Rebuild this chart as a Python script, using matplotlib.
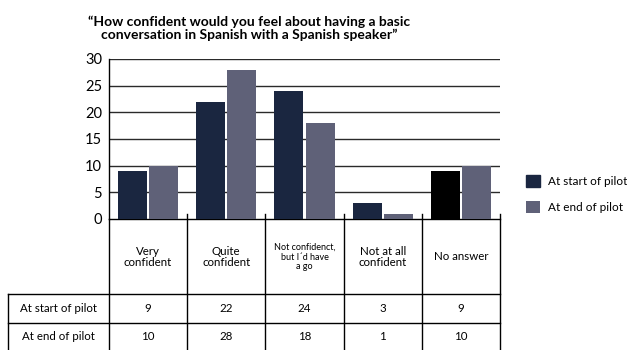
import numpy as np
import matplotlib.pyplot as plt

# survey answers, counted at the start and end of the pilot
categories = ["Very\nconfident", "Quite\nconfident", "Not confidenct,\nbut I´d have\na go",
              "Not at all\nconfident", "No answer"]
series_names = ["At start of pilot", "At end of pilot"]
start_vals = [9, 22, 24, 3, 9]
end_vals = [10, 28, 18, 1, 10]
title = "\u201cHow confident would you feel about having a basic\nconversation in Spanish with a Spanish speaker\u201d"

navy = "#1a2640"
slate = "#5f6178"
start_colors = [navy, navy, navy, navy, "#000000"]

plt.rcParams['font.family'] = ['Lato', 'DejaVu Sans']

W, H = 627, 350
fig = plt.figure(figsize=(W / 100, H / 100), dpi=100)
x0, x1, ytop, ybot = 109, 500, 59, 219
ax = fig.add_axes([x0 / W, 1 - ybot / H, (x1 - x0) / W, (ybot - ytop) / H])

n = len(categories)
x = np.arange(n)
w = 0.37
b1 = ax.bar(x - 0.2, start_vals, w, color=start_colors, zorder=3, label=series_names[0])
b2 = ax.bar(x + 0.2, end_vals, w, color=slate, zorder=3, label=series_names[1])

ax.set_xlim(-0.5, n - 0.5)
ax.set_ylim(0, 30)
ax.set_yticks(range(0, 31, 5))
for v in range(5, 31, 5):
    ax.axhline(v, color="#2a2a2a", lw=1, zorder=1)
ax.set_xticks([])
ax.tick_params(axis="y", length=0, labelsize=10.5, pad=5)
for s in ["top", "right"]:
    ax.spines[s].set_visible(False)
ax.spines["left"].set_linewidth(1)
ax.spines["bottom"].set_linewidth(1)

# table under the bars, in pixel rows converted to axes fraction
def py(p):
    return (ybot - p) / (ybot - ytop)

cw = (x1 - x0) / n
def px(p):
    return (p - x0) / cw - 0.5

tr = ax.get_xaxis_transform()
line_kw = dict(color="black", lw=1, transform=tr, clip_on=False)
ax.plot([-0.5, -0.5], [py(219), py(350)], **line_kw)
for b in np.arange(n) + 0.5:
    ax.plot([b, b], [py(214), py(350)], **line_kw)
left = px(8)
ax.plot([left, left], [py(294), py(350)], **line_kw)
for yy in [294, 323]:
    ax.plot([left, n - 0.5], [py(yy), py(yy)], **line_kw)

for i, cat in enumerate(categories):
    fs = 6.5 if cat.count("\n") > 1 else 8.3
    ax.text(i, py(257), cat, ha="center", va="center", fontsize=fs,
            linespacing=1.05, transform=tr)
    ax.text(i, py(309), str(start_vals[i]), ha="center", va="center", fontsize=8.3, transform=tr)
    ax.text(i, py(337), str(end_vals[i]), ha="center", va="center", fontsize=8.3, transform=tr)

for name, yy in zip(series_names, [309, 337]):
    ax.text((left - 0.5) / 2, py(yy), name, ha="center", va="center", fontsize=8.3, transform=tr)

leg = ax.legend(handles=[b1, b2], loc="upper left", bbox_to_anchor=(526 / W, 1 - 175 / H),
                bbox_transform=fig.transFigure, frameon=False, fontsize=8.5,
                handlelength=1.2, handleheight=1.2, handletextpad=0.7,
                labelspacing=1.2, borderpad=0, borderaxespad=0)
leg.legend_handles[0].set_color(navy)

fig.text(249 / W, 1 - 28 / H, title, ha="center", va="center", fontsize=10,
         fontweight="bold", linespacing=1.1)

fig.savefig("out.png", dpi=100)
